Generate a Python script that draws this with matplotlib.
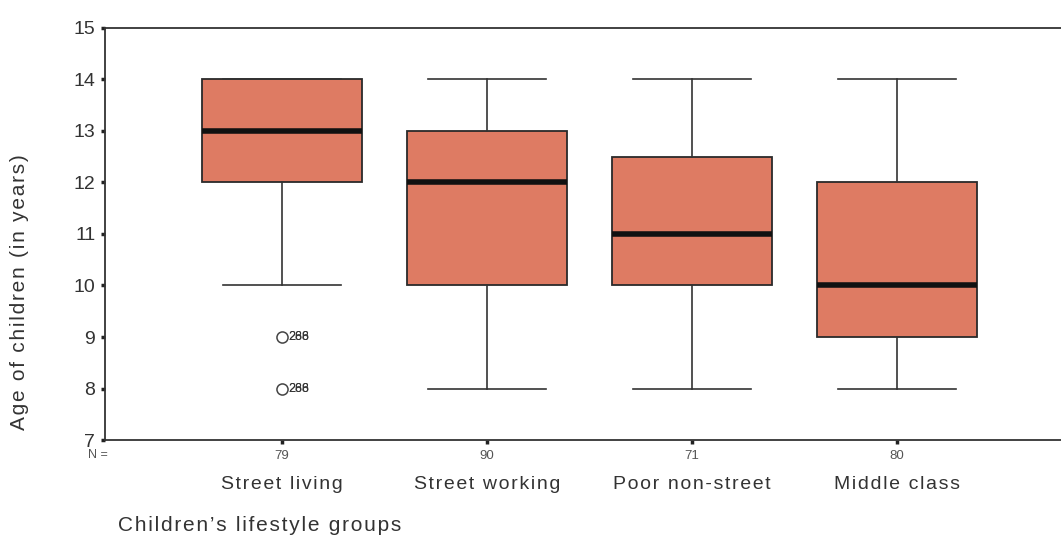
import numpy as np
import matplotlib.pyplot as plt

groups = ["Street living", "Street working", "Poor non-street", "Middle class"]
n_cases = [79, 90, 71, 80]
whislo = [10, 8, 8, 8]
q1 = [12, 10, 10, 9]
med = [13, 12, 11, 10]
q3 = [14, 13, 12.5, 12]
whishi = [14, 14, 14, 14]
fliers = [[9, 8], [], [], []]
flier_ids = [[["288", "266"], ["288", "266"]], [], [], []]

plt.rcParams['font.family'] = ['Liberation Sans', 'DejaVu Sans']


def spaced(s):
    # old SPSS output has wide letter spacing
    return "\u200a".join(s)


fig = plt.figure(figsize=(10.61, 5.46), dpi=100)
ax = fig.add_axes([0.099, 0.194, 0.901, 0.755])

stats = []
for i in range(len(groups)):
    stats.append(dict(label=groups[i], whislo=whislo[i], q1=q1[i], med=med[i],
                      q3=q3[i], whishi=whishi[i], fliers=fliers[i]))

pos = np.arange(1, len(groups) + 1)
ax.bxp(stats, positions=pos, widths=0.78, capwidths=0.58, patch_artist=True,
       boxprops=dict(facecolor='#DE7B63', edgecolor='#2a2a2a', linewidth=1.3),
       medianprops=dict(color='#111111', linewidth=4, solid_capstyle='butt'),
       whiskerprops=dict(color='#333333', linewidth=1.2),
       capprops=dict(color='#333333', linewidth=1.2),
       flierprops=dict(marker='o', markerfacecolor='none', markeredgecolor='#444444',
                       markersize=8, markeredgewidth=1.1))

for i in range(len(groups)):
    for v, ids in zip(fliers[i], flier_ids[i]):
        for lab in ids:
            ax.text(pos[i] + 0.03, v, lab, fontsize=9, color='#333333',
                    va='center', ha='left')

ax.set_xlim(0.137, 4.80)
ax.set_ylim(7, 15)
ax.set_yticks(range(7, 16))
ax.set_xticks(pos)
ax.set_xticklabels([str(n) for n in n_cases], fontsize=9.5, color='#555555')
ax.tick_params(axis='both', direction='out', length=3, width=2.5, colors='#222222')
ax.tick_params(axis='x', labelcolor='#555555', pad=4)
ax.tick_params(axis='y', labelsize=14, labelcolor='#333333', pad=4)
ax.spines['right'].set_visible(False)
for s in ['top', 'left', 'bottom']:
    ax.spines[s].set_color('#333333')
    ax.spines[s].set_linewidth(1.3)

for i, g in enumerate(groups):
    ax.text(pos[i], -0.087, spaced(g), transform=ax.get_xaxis_transform(), ha='center',
            va='top', fontsize=14, color='#333333')
ax.text(0.083, 0.166, "N =", transform=fig.transFigure, ha='left', va='center',
        fontsize=9, color='#555555')

ax.set_ylabel(spaced("Age of children (in years)"), fontsize=15, color='#333333')
ax.yaxis.set_label_coords(-0.080, 0.36)
fig.text(0.111, 0.038, spaced("Children\u2019s lifestyle groups"), fontsize=15,
         color='#333333', ha='left', va='center')

plt.savefig("out.png", dpi=100)
